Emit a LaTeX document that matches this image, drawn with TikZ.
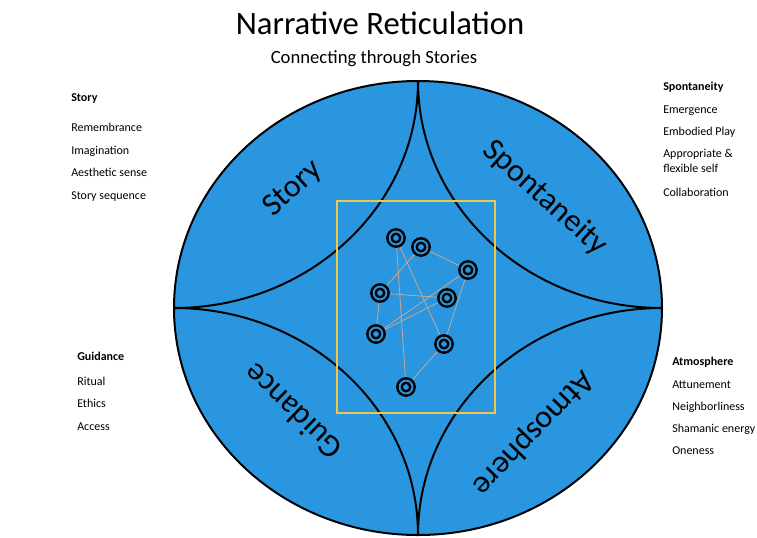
\documentclass[tikz,border=0pt]{standalone}
\usepackage{fontspec}
\setmainfont{Carlito}
\definecolor{discblue}{RGB}{42,150,224}
\definecolor{frameyellow}{RGB}{238,200,70}
\definecolor{linktan}{RGB}{196,168,150}

\begin{document}
\begin{tikzpicture}[x=0.75pt,y=-0.75pt]
\tikzstyle{ring}=[circle,draw=black,line width=1.9pt,double=discblue,double distance=1.4pt,minimum size=9.6pt,inner sep=0pt,outer sep=2.9pt]
\tikzstyle{link}=[draw=linktan,line width=0.6pt]
\tikzstyle{part}=[font=\fontsize{24}{28}\selectfont]
\tikzstyle{head}=[anchor=west,inner sep=0pt,font=\fontsize{9}{11}\selectfont\bfseries,text height=1.5ex,text depth=.25ex]
\tikzstyle{item}=[anchor=west,inner sep=0pt,font=\fontsize{9}{11}\selectfont,text height=1.5ex,text depth=.25ex]

\useasboundingbox (0,0) rectangle (757,537);

% disc and its four curved borders
\fill[discblue] (418,308) ellipse [x radius=244,y radius=227];
\coordinate (top) at (418,81);
\coordinate (left) at (174,308);
\coordinate (right) at (662,308);
\coordinate (bottom) at (418,535);
\draw[line width=1.5pt] (top) arc[start angle=0,end angle=90,x radius=244,y radius=227];
\draw[line width=1.5pt] (top) arc[start angle=180,end angle=90,x radius=244,y radius=227];
\draw[line width=1.5pt] (left) arc[start angle=-90,end angle=0,x radius=244,y radius=227];
\draw[line width=1.5pt] (right) arc[start angle=-90,end angle=-180,x radius=244,y radius=227];
\draw[line width=1.5pt] (418,308) ellipse [x radius=244,y radius=227];

\draw[frameyellow,line width=1.5pt] (337,201) rectangle (495,413);

% the net
\node[ring] (n1) at (396,238) {};
\node[ring] (n2) at (421,247) {};
\node[ring] (n3) at (468,270) {};
\node[ring] (n4) at (380,293) {};
\node[ring] (n5) at (447,298) {};
\node[ring] (n6) at (376,334) {};
\node[ring] (n7) at (444,344) {};
\node[ring] (n8) at (406,387) {};

\draw[link] (n1) -- (n8);
\draw[link] (n1) -- (n7);
\draw[link] (n2) -- (n3);
\draw[link] (n2) -- (n4);
\draw[link] (n3) -- (n6);
\draw[link] (n3) -- (n7);
\draw[link] (n4) -- (n6);
\draw[link] (n4) -- (n5);
\draw[link] (n6) -- (n5);
\draw[link] (n8) -- (n7);

% titles
\node[font=\fontsize{24.5}{29}\selectfont] (title) at (380,23) {Narrative Reticulation};
\node[font=\fontsize{14}{17}\selectfont] (subtitle) at (374,59) {Connecting through Stories};

% quadrant names
\node[part,rotate=42] (lstory) at (293,189) {Story};
\node[part,rotate=-42] (lspont) at (545,198) {Spontaneity};
\node[part,rotate=136] (lguid) at (293,412) {Guidance};
\node[part,rotate=-134] (latmo) at (533,433) {Atmosphere};

% side lists
\node[head] (hstory) at (71,98) {Story};
\foreach \t/\y [count=\i] in {Remembrance/128,Imagination/151,Aesthetic sense/173,Story sequence/196}
  \node[item] (story\i) at (71,\y) {\t};

\node[head] (hspont) at (663,87) {Spontaneity};
\foreach \t/\y [count=\i] in {Emergence/110,Embodied Play/132,Appropriate \&/154,flexible self/169,Collaboration/193}
  \node[item] (spont\i) at (663,\y) {\t};

\node[head] (hguid) at (77,357) {Guidance};
\foreach \t/\y [count=\i] in {Ritual/382,Ethics/404,Access/427}
  \node[item] (guid\i) at (77,\y) {\t};

\node[head] (hatmo) at (672,362) {Atmosphere};
\foreach \t/\y [count=\i] in {Attunement/385,Neighborliness/407,Shamanic energy/429,Oneness/451}
  \node[item] (atmo\i) at (672,\y) {\t};

\end{tikzpicture}
\end{document}
